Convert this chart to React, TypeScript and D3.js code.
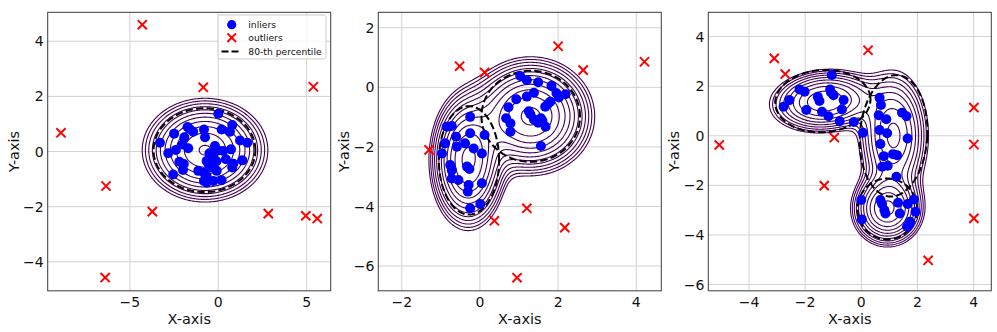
import * as d3 from 'd3';
import React, { useRef, useEffect } from 'react';

// ---- data ----
const inliers1 = [
  [0, 1.37], [-1.74, 0.89], [-1.62, 0.82], [-0.81, 0.8], [-2.5, 0.65], [-1.92, 0.52], [-1.42, 0.72],
  [-0.75, 0.52], [0.19, 0.8], [0.79, 0.96], [0.66, 0.72], [1.23, 0.4], [1.64, 0.32], [-3.3, 0.32],
  [-2.02, 0.26], [-1.7, 0.12], [-2.83, -0.06], [-2.4, 0.06], [-0.19, 0.2], [0, 0.04], [0.28, 0.02],
  [0.72, 0.08], [-0.5, -0.06], [-0.28, -0.22], [0.43, -0.28], [-0.66, -0.34], [-2.2, -0.37], [-2.0, -0.67],
  [-2.55, -0.83], [0.85, -0.44], [1.36, -0.32], [0.79, -0.58], [-1.13, -0.7], [-0.81, -0.77], [-0.38, -0.58],
  [-0.09, -0.7], [-0.66, -0.89], [-0.81, -1.07], [-0.66, -1.13], [-0.28, -1.07], [0.19, -1.04],
  [-0.55, -0.45], [-1.95, -0.45], [-0.1, -0.35],
];
const outliers1 = [
  [-4.3, 4.6], [-0.85, 2.33], [5.38, 2.35], [-8.9, 0.68], [-6.35, -1.25], [-3.73, -2.18],
  [2.83, -2.25], [4.95, -2.33], [5.6, -2.43], [-6.4, -4.57],
];
const gmm1 = [{ w: 1, mx: -0.75, my: 0.05, sx: 1.605, sy: 0.85, rho: 0 }];
const dashed1 = [{ cx: -0.78, cy: 0.05, rx: 2.88, ry: 1.52, angle: 0 }];

const inliers2 = [
  [1.03, 0.38], [1.2, 0.24], [1.49, 0.17], [1.83, 0.05], [2.19, -0.23], [2.02, -0.34], [1.96, -0.2],
  [1.8, -0.48], [1.74, -0.56], [1.67, -0.65], [1.38, -0.18], [1.2, -0.31], [0.93, -0.4], [0.73, -0.67],
  [0.67, -1.04], [0.78, -1.21], [0.78, -1.49], [1.25, -0.8], [1.29, -0.9], [1.38, -1.08], [1.56, -1.04],
  [1.6, -1.13], [1.49, -1.19], [1.68, -1.32], [1.56, -1.97],
  [-0.25, -0.99], [-0.72, -1.3], [-0.85, -1.32], [-0.61, -1.66], [-0.25, -1.54], [0.12, -1.6], [-0.89, -1.88],
  [-0.59, -1.99], [-0.38, -1.88], [-0.16, -2.05], [0.05, -2.22], [-0.97, -2.22], [-0.76, -2.61],
  [-0.72, -2.78], [-0.33, -2.66], [-0.27, -2.74], [-0.72, -3.06], [-0.55, -3.11], [-0.29, -3.28],
  [-0.31, -3.5], [0.05, -3.22], [0.01, -3.92], [-0.25, -4.06],
];
const outliers2 = [
  [-0.52, 0.71], [0.12, 0.5], [2.0, 1.38], [2.64, 0.58], [4.21, 0.86], [-1.3, -2.1],
  [0.37, -4.48], [1.2, -4.06], [2.17, -4.71], [0.95, -6.39],
];
const gmm2 = [
  { w: 0.42, mx: -0.3, my: -2.45, sx: 0.43, sy: 1.01, rho: 0 },
  { w: 0.58, mx: 1.3, my: -0.97, sx: 0.7, sy: 0.855, rho: 0 },
];
const dashed2 = [
  { cx: -0.28, cy: -2.45, rx: 0.77, ry: 1.82, angle: 0 },
  { cx: 1.3, cy: -0.97, rx: 1.26, ry: 1.53, angle: 0 },
];

const inliers3 = [
  [-1.05, 2.45], [-2.2, 1.87], [-2.02, 1.78], [-2.56, 1.44], [-2.77, 1.17], [-1.96, 1.04], [-1.55, 1.57],
  [-1.49, 1.4], [-1.11, 1.87], [-0.99, 1.64], [-0.63, 1.44], [-0.69, 1.06], [-1.4, 0.97], [-1.17, 0.79],
  [-0.77, 0.59], [-0.27, 0.56], [-1.08, 1.75],
  [0.65, 1.53], [0.7, 1.24], [0.62, 0.83], [0.89, 0.67], [1.45, 0.93], [1.61, 0.79], [0.65, 0.23],
  [0.92, 0.1], [0.06, 0.12], [0.68, -0.33], [1.65, -0.11], [0.8, -0.82], [1.13, -0.74], [1.27, -0.78],
  [0.74, -1.25], [0.94, -1.21], [1.25, -1.65],
  [0, -2.59], [0.02, -3.37], [0.68, -2.59], [0.74, -2.75], [0.82, -2.99], [0.86, -3.13], [1.31, -2.7],
  [1.65, -2.75], [1.87, -2.57], [1.93, -3.06], [1.37, -3.13], [1.73, -3.47], [1.63, -3.67], [1.7, -3.58],
];
const outliers3 = [
  [-3.1, 3.12], [-2.71, 2.49], [0.24, 3.45], [-5.06, -0.37], [-0.96, -0.07], [-1.32, -2.01],
  [4.01, 1.14], [4.01, -0.35], [4.01, -3.33], [2.38, -5.02],
];
const gmm3 = [
  { w: 0.32, mx: -1.3, my: 1.4, sx: 0.95, sy: 0.62, rho: 0.1 },
  { w: 0.38, mx: 1.15, my: 0.0, sx: 0.62, sy: 1.3, rho: 0 },
  { w: 0.3, mx: 0.93, my: -2.95, sx: 0.59, sy: 0.69, rho: 0 },
];
const dashed3 = [
  { cx: -1.37, cy: 1.4, rx: 1.7, ry: 1.25, angle: 5 },
  { cx: 1.15, cy: 0.0, rx: 1.2, ry: 2.45, angle: -3 },
  { cx: 0.93, cy: -2.95, rx: 1.06, ry: 1.23, angle: 0 },
];

// log-density levels of the solid contours
const contourLevels = [-4.6, -4.357, -4.114, -3.871, -3.628, -3.385, -3.142, -2.899, -2.656, -2.413, -2.17, -1.927, -1.684];

const xDomains = [[-9.65, 6.36], [-2.6, 4.64], [-5.45, 4.63]];
const yDomains = [[-5.05, 5.05], [-6.83, 2.52], [-6.25, 4.98]];
const xTicks = [[-5, 0, 5], [-2, 0, 2, 4], [-4, -2, 0, 2, 4]];
const yTicks = [[-4, -2, 0, 2, 4], [-6, -4, -2, 0, 2], [-6, -4, -2, 0, 2, 4]];

const legendLabels = ['inliers', 'outliers', '80-th percentile'];

const FONT = 'DejaVu Sans, sans-serif';

function logDensity(comps, px, py) {
  let s = 0;
  for (const c of comps) {
    const dx = (px - c.mx) / c.sx, dy = (py - c.my) / c.sy;
    const r2 = 1 - c.rho * c.rho;
    const q = (dx * dx - 2 * c.rho * dx * dy + dy * dy) / r2;
    s += (c.w * Math.exp(-q / 2)) / (2 * Math.PI * c.sx * c.sy * Math.sqrt(r2));
  }
  return Math.log(s + 1e-300);
}

const fmt = (d) => String(d).replace('-', '\u2212');

function drawPanel(svg, k, left, inliers, outliers, gmm, ellipses, legend) {
  const top = 12.3, width = 283, height = 278.5;
  const x = d3.scaleLinear().domain(xDomains[k]).range([left, left + width]);
  const y = d3.scaleLinear().domain(yDomains[k]).range([top + height, top]);

  const g = svg.append('g');
  const clipId = 'clip' + k;
  g.append('clipPath').attr('id', clipId)
    .append('rect').attr('x', left).attr('y', top).attr('width', width).attr('height', height);

  // grid
  g.append('g').selectAll('line').data(xTicks[k]).join('line')
    .attr('x1', (d) => x(d)).attr('x2', (d) => x(d))
    .attr('y1', top).attr('y2', top + height)
    .attr('stroke', '#d2d2d2').attr('stroke-width', 1);
  g.append('g').selectAll('line').data(yTicks[k]).join('line')
    .attr('y1', (d) => y(d)).attr('y2', (d) => y(d))
    .attr('x1', left).attr('x2', left + width)
    .attr('stroke', '#d2d2d2').attr('stroke-width', 1);

  // density contours
  const nx = Math.round(width), ny = Math.ceil(height);
  const values = new Float64Array(nx * ny);
  for (let j = 0; j < ny; j++) {
    for (let i = 0; i < nx; i++) {
      values[j * nx + i] = logDensity(gmm, x.invert(left + i + 0.5), y.invert(top + j + 0.5));
    }
  }
  const contours = d3.contours().size([nx, ny]).thresholds(contourLevels)(values);
  const path = d3.geoPath(d3.geoIdentity().translate([left, top]));
  const body = g.append('g').attr('clip-path', `url(#${clipId})`);
  body.append('g').selectAll('path').data(contours).join('path')
    .attr('d', path)
    .attr('fill', 'none')
    .attr('stroke', '#440154')
    .attr('stroke-width', 1.1);

  // 80-th percentile ellipses
  const line = d3.line().x((p) => x(p[0])).y((p) => y(p[1])).curve(d3.curveLinearClosed);
  body.append('g').selectAll('path').data(ellipses).join('path')
    .attr('d', (e) => {
      const a = (e.angle * Math.PI) / 180;
      const pts = d3.range(0, 360, 2).map((t) => {
        const r = (t * Math.PI) / 180;
        const ex = e.rx * Math.cos(r), ey = e.ry * Math.sin(r);
        return [e.cx + ex * Math.cos(a) - ey * Math.sin(a), e.cy + ex * Math.sin(a) + ey * Math.cos(a)];
      });
      return line(pts);
    })
    .attr('fill', 'none')
    .attr('stroke', '#000')
    .attr('stroke-width', 2)
    .attr('stroke-dasharray', '7.4,3.2');

  // points
  body.append('g').selectAll('circle').data(inliers).join('circle')
    .attr('cx', (d) => x(d[0])).attr('cy', (d) => y(d[1])).attr('r', 5)
    .attr('fill', '#0000ff');
  const s = 4.6;
  body.append('g').selectAll('path').data(outliers).join('path')
    .attr('d', (d) => {
      const px = x(d[0]), py = y(d[1]);
      return `M${px - s},${py - s}L${px + s},${py + s}M${px - s},${py + s}L${px + s},${py - s}`;
    })
    .attr('stroke', '#ff0000').attr('stroke-width', 2).attr('fill', 'none');

  // frame
  g.append('rect').attr('x', left).attr('y', top).attr('width', width).attr('height', height)
    .attr('fill', 'none').attr('stroke', '#3c3c3c').attr('stroke-width', 1);

  // tick labels
  g.append('g').selectAll('text').data(xTicks[k]).join('text')
    .attr('x', (d) => x(d)).attr('y', top + height + 16)
    .attr('text-anchor', 'middle')
    .attr('font-family', FONT).attr('font-size', 14).attr('fill', '#111')
    .text(fmt);
  g.append('g').selectAll('text').data(yTicks[k]).join('text')
    .attr('x', left - 4).attr('y', (d) => y(d) + 5)
    .attr('text-anchor', 'end')
    .attr('font-family', FONT).attr('font-size', 14).attr('fill', '#111')
    .text(fmt);

  // axis labels
  g.append('text').attr('x', left + width / 2).attr('y', 324)
    .attr('text-anchor', 'middle')
    .attr('font-family', FONT).attr('font-size', 14.5).attr('fill', '#111')
    .text('X-axis');
  g.append('text')
    .attr('transform', `translate(${left - 29},${top + height / 2}) rotate(-90)`)
    .attr('text-anchor', 'middle')
    .attr('font-family', FONT).attr('font-size', 14.5).attr('fill', '#111')
    .text('Y-axis');

  if (legend) {
    const lg = g.append('g');
    lg.append('rect').attr('x', 218).attr('y', 15).attr('width', 108).attr('height', 44)
      .attr('rx', 2.5).attr('fill', 'white').attr('fill-opacity', 0.85)
      .attr('stroke', '#cccccc').attr('stroke-width', 1);
    lg.append('circle').attr('cx', 231.7).attr('cy', 24.7).attr('r', 4.6).attr('fill', '#0000ff');
    const lx = 231.7, ly = 37.7, ls = 4.3;
    lg.append('path')
      .attr('d', `M${lx - ls},${ly - ls}L${lx + ls},${ly + ls}M${lx - ls},${ly + ls}L${lx + ls},${ly - ls}`)
      .attr('stroke', '#ff0000').attr('stroke-width', 2);
    lg.append('line').attr('x1', 221.5).attr('x2', 239.5).attr('y1', 51.5).attr('y2', 51.5)
      .attr('stroke', '#000').attr('stroke-width', 2).attr('stroke-dasharray', '7,3');
    lg.selectAll('text.lbl').data(legendLabels).join('text')
      .attr('x', 248.3).attr('y', (d, i) => [24.7, 37.7, 51.5][i] + 3.3)
      .attr('font-family', FONT).attr('font-size', 9.2).attr('fill', '#111')
      .text((d) => d);
  }
}

function App() {
  const svgRef = useRef(null);

  useEffect(() => {
    const svg = d3.select(svgRef.current);
    svg.selectAll('*').remove();
    drawPanel(svg, 0, 47.7, inliers1, outliers1, gmm1, dashed1, true);
    drawPanel(svg, 1, 378.3, inliers2, outliers2, gmm2, dashed2, false);
    drawPanel(svg, 2, 708.3, inliers3, outliers3, gmm3, dashed3, false);
  }, []);

  return (
    <svg
      ref={svgRef}
      width={997}
      height={332}
      style={{ position: 'absolute', left: 0, top: 0, background: 'white' }}
    ></svg>
  );
}

export default App;
